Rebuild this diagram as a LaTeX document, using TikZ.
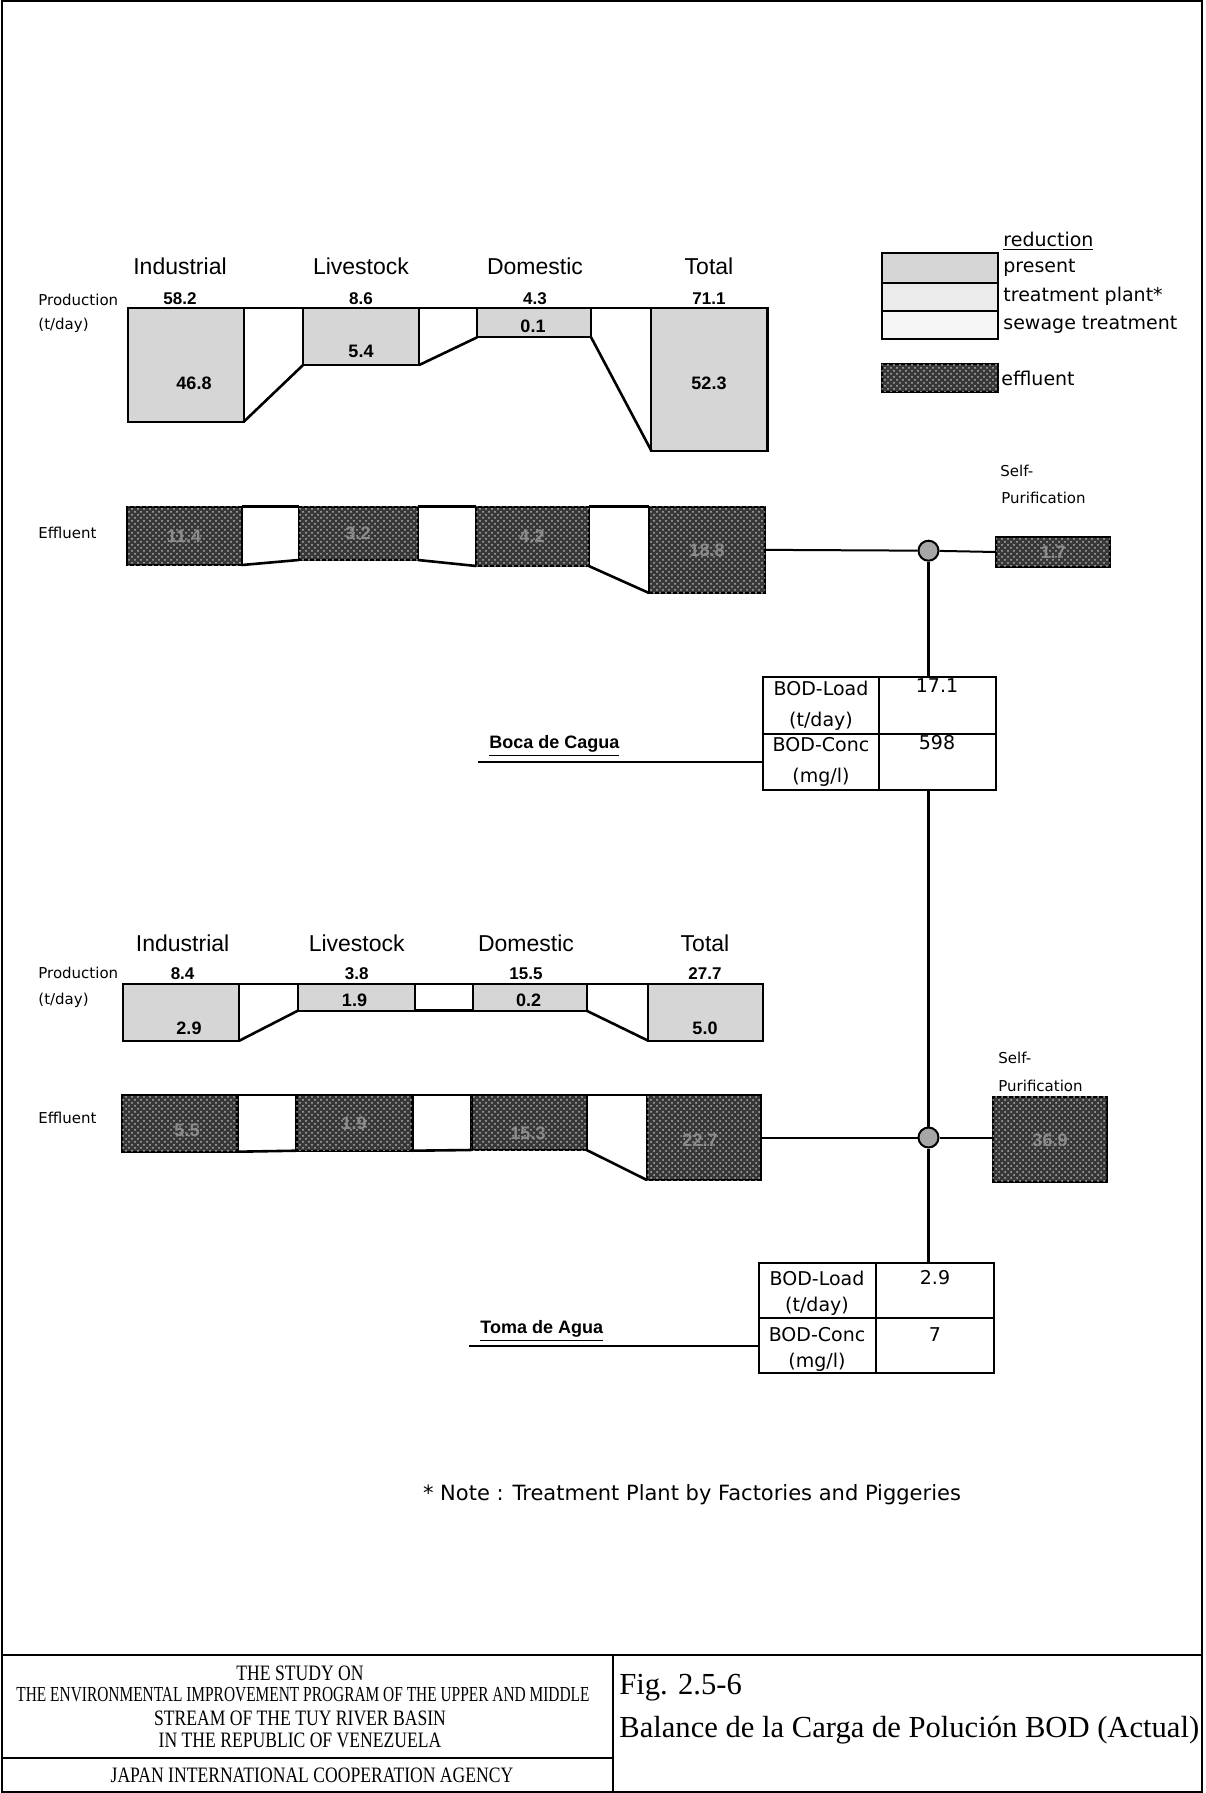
\documentclass[tikz,border=0pt]{standalone}
\usepackage{fontspec}
\usetikzlibrary{fit,patterns}
\newfontfamily\dv{DejaVu Sans}
\newfontfamily\ls{Liberation Sans}
\newfontfamily\lsr{Liberation Serif}
\newfontfamily\lsrn[FakeStretch=0.8]{Liberation Serif}
\newfontfamily\lsrm[FakeStretch=0.72]{Liberation Serif}
\begin{document}
\begin{tikzpicture}[x=0.5pt,y=-0.5pt,
 bx/.style={draw, line width=1.1pt, inner sep=0pt, outer sep=0pt},
 prod/.style={bx, fill=black!16},
 lgb/.style={bx, fill=black!8},
 lgc/.style={bx, fill=black!4},
 eff/.style={bx, fill=black!78, postaction={pattern=crosshatch dots, pattern color=white!70!black}},
 gapln/.style={line width=1.3pt},
 conn/.style={line width=1pt},
 hd/.style={font=\ls\fontsize{11.5}{13}\selectfont, inner sep=0pt},
 val/.style={font=\ls\bfseries\fontsize{8.5}{10}\selectfont, inner sep=0pt},
 inv/.style={font=\ls\bfseries\fontsize{9}{10}\selectfont, inner sep=0pt},
 einv/.style={inv, text=black!45},
 sm/.style={font=\dv\fontsize{7.5}{9}\selectfont, inner sep=0pt, anchor=west},
 tb/.style={font=\dv\fontsize{9.5}{11}\selectfont, inner sep=0pt},
 lg/.style={font=\dv\fontsize{9.5}{11}\selectfont, inner sep=0pt, anchor=west},
 place/.style={font=\ls\bfseries\fontsize{9}{11}\selectfont, inner sep=0pt, anchor=west},
 ttl/.style={font=\lsrn\fontsize{11}{12}\selectfont, inner sep=0pt},
 ttlw/.style={font=\lsrm\fontsize{10.7}{12}\selectfont, inner sep=0pt},
 figt/.style={font=\lsr\fontsize{15.3}{17}\selectfont, inner sep=0pt, anchor=west},
 frm/.style={line width=1pt},
 junc/.style={circle, draw, line width=1pt, fill=black!35, minimum size=10pt, inner sep=0pt}
]
\useasboundingbox (0,0) rectangle (1205,1793);

% ---------- frame and title block ----------
\draw[frm] (1.5,1.5) rectangle (1202,1792);
\coordinate (tl) at (1.5,1655);
\coordinate (tr) at (1202,1655);
\draw[frm] (tl) -- (tr);
\coordinate (dv1) at (612.6,1655);
\coordinate (dv2) at (612.6,1792);
\draw[frm] (dv1) -- (dv2);
\coordinate (sl) at (1.5,1758.3);
\draw[frm] (sl) -- (sl -| dv1);
\node[ttl] (t1) at (300,1673) {THE STUDY ON};
\node[ttlw] (t2) at (303,1695) {THE ENVIRONMENTAL IMPROVEMENT PROGRAM OF THE UPPER AND MIDDLE};
\node[ttl] (t3) at (300,1718) {STREAM OF THE TUY RIVER BASIN};
\node[ttl] (t4) at (300,1740) {IN THE REPUBLIC OF VENEZUELA};
\node[ttl] (t5) at (312,1775) {JAPAN INTERNATIONAL COOPERATION AGENCY};
\node[figt] (f1) at (619,1688) {Fig. 2.5-6};
\node[figt] (f2) at (619,1730) {Balance de la Carga de Polución BOD (Actual)};

% ---------- legend ----------
\node[lg] (red) at (1003,241.7) {\underline{reduction}};
\node[prod, fit={(881.7,253.3)(998.3,282.7)}] (lga) {};
\node[lgb, fit={(881.7,282.7)(998.3,310.7)}] (lgbn) {};
\node[lgc, fit={(881.7,310.7)(998.3,339.3)}] (lgcn) {};
\node[lg] (lp) at (1003,268) {present};
\node[lg] (lt) at (1003,296) {treatment plant*};
\node[lg] (ls) at (1003,325) {sewage treatment};
\node[eff, fit={(881.7,364)(998.3,391.7)}] (lge) {};
\node[lg] (le) at (1001,378) {effluent};

% ---------- upper section: production ----------
\node[hd] (h1) at (180,266.7) {Industrial};
\node[hd] (h2) at (361,266.7) {Livestock};
\node[hd] (h3) at (535,266.7) {Domestic};
\node[hd] (h4) at (709,266.7) {Total};
\node[val] (v1) at (180,299) {58.2};
\node[val] (v2) at (361,299) {8.6};
\node[val] (v3) at (535,299) {4.3};
\node[val] (v4) at (709,299) {71.1};
\node[sm] (pr1) at (38,300) {Production};
\node[sm] (td1) at (38,325) {(t/day)};

\node[prod, fit={(127.7,308)(243.8,421.7)}] (pi1) {};
\node[prod, fit={(303.1,308)(419.2,365)}] (pl1) {};
\node[prod, fit={(477.2,308)(591.1,337.3)}] (pd1) {};
\node[prod, fit={(651.3,308)(767.4,450.7)}] (pt1) {};
\draw[gapln] (pi1.north east) -- (pl1.north west);
\draw[gapln] (pi1.south east) -- (pl1.south west);
\draw[gapln] (pl1.north east) -- (pd1.north west);
\draw[gapln] (pl1.south east) -- (pd1.south west);
\draw[gapln] (pd1.north east) -- (pt1.north west);
\draw[gapln] (pd1.south east) -- (pt1.south west);
\node[inv] (n1) at (194,383) {46.8};
\node[inv] (n2) at (361,351.7) {5.4};
\node[inv] (n3) at (533,326) {0.1};
\node[inv] (n4) at (709,383) {52.3};

% ---------- upper section: effluent ----------
\node[sm] (ef1) at (38,533) {Effluent};
\node[eff, fit={(126.8,506.7)(242,565)}] (ei1) {};
\node[eff, fit={(298.7,506.7)(417.9,560)}] (el1) {};
\node[eff, fit={(476.3,506.7)(588.8,566)}] (ed1) {};
\node[eff, fit={(649,506.7)(765,593)}] (et1) {};
\draw[gapln] (ei1.north east) -- (el1.north west);
\draw[gapln] (ei1.south east) -- (el1.south west);
\draw[gapln] (el1.north east) -- (ed1.north west);
\draw[gapln] (el1.south east) -- (ed1.south west);
\draw[gapln] (ed1.north east) -- (et1.north west);
\draw[gapln] (ed1.south east) -- (et1.south west);
\node[einv] (e1) at (184,536) {11.4};
\node[einv] (e2) at (358,533) {3.2};
\node[einv] (e3) at (532,536) {4.2};
\node[einv] (e4) at (707,550) {18.8};

\node[junc] (j1) at (928.5,550.7) {};
\node[eff, fit={(996,537)(1110,567)}] (sp1) {};
\node[einv] (s1) at (1053,552) {1.7};
\node[sm] (sf1) at (1000,471) {Self-};
\node[sm] (pu1) at (1001,498) {Purification};
\draw[conn] (et1.east) -- (j1);
\draw[conn] (j1) -- (sp1.west);

% ---------- Boca de Cagua table ----------
\node[bx, fit={(763.3,676.7)(879,734)}] (c11) {};
\node[bx, fit={(879,676.7)(996,734)}] (c12) {};
\node[bx, fit={(763.3,734)(879,790)}] (c21) {};
\node[bx, fit={(879,734)(996,790)}] (c22) {};
\node[tb] (c11a) at (821,688) {BOD-Load};
\node[tb] (c11b) at (821,721) {(t/day)};
\node[tb] (c21a) at (821,745) {BOD-Conc};
\node[tb] (c21b) at (821,777) {(mg/l)};
\node[tb] (c12a) at (937,686) {17.1};
\node[tb] (c22a) at (937,743) {598};
\draw[line width=1.2pt] (j1) -- (j1 |- c12.north);
\coordinate (bc) at (478,761.7);
\draw[conn] (bc) -- (bc -| c21.west);
\node[place] (bcl) at (489,746) {\underline{Boca de Cagua}};

% ---------- lower section: production ----------
\node[hd] (h5) at (182.6,943.3) {Industrial};
\node[hd] (h6) at (356.7,943.3) {Livestock};
\node[hd] (h7) at (526,943.3) {Domestic};
\node[hd] (h8) at (705,943.3) {Total};
\node[val] (v5) at (182.6,973.3) {8.4};
\node[val] (v6) at (356.7,973.3) {3.8};
\node[val] (v7) at (526,973.3) {15.5};
\node[val] (v8) at (705,973.3) {27.7};
\node[sm] (pr2) at (38,973) {Production};
\node[sm] (td2) at (38,1000) {(t/day)};

\node[prod, fit={(123.2,984)(239.3,1040.7)}] (pi2) {};
\node[prod, fit={(297.8,984)(414.7,1010.7)}] (pl2) {};
\node[prod, fit={(472.8,984)(586.6,1010.7)}] (pd2) {};
\node[prod, fit={(648.2,984)(763,1040.7)}] (pt2) {};
\draw[gapln] (pi2.north east) -- (pl2.north west);
\draw[gapln] (pi2.south east) -- (pl2.south west);
\draw[gapln] (pl2.north east) -- (pd2.north west);
\draw[gapln] (pl2.south east) -- (pd2.south west);
\draw[gapln] (pd2.north east) -- (pt2.north west);
\draw[gapln] (pd2.south east) -- (pt2.south west);
\node[inv] (n5) at (189,1028) {2.9};
\node[inv] (n6) at (354.5,1000.7) {1.9};
\node[inv] (n7) at (528.6,1000.7) {0.2};
\node[inv] (n8) at (705,1028) {5.0};

% ---------- lower section: effluent ----------
\node[sm] (ef2) at (38,1118) {Effluent};
\node[eff, fit={(122.3,1095)(237.5,1151.7)}] (ei2) {};
\node[eff, fit={(296.4,1095)(412.5,1150.7)}] (el2) {};
\node[eff, fit={(471.4,1095)(586.6,1150)}] (ed2) {};
\node[eff, fit={(646.9,1095)(760.7,1180)}] (et2) {};
\draw[gapln] (ei2.north east) -- (el2.north west);
\draw[gapln] (ei2.south east) -- (el2.south west);
\draw[gapln] (el2.north east) -- (ed2.north west);
\draw[gapln] (el2.south east) -- (ed2.south west);
\draw[gapln] (ed2.north east) -- (et2.north west);
\draw[gapln] (ed2.south east) -- (et2.south west);
\node[einv] (e5) at (187,1130) {5.5};
\node[einv] (e6) at (354,1123) {1.9};
\node[einv] (e7) at (528,1133) {15.3};
\node[einv] (e8) at (700,1140) {22.7};

\node[junc] (j2) at (928.5,1137.5) {};
\node[eff, fit={(992.7,1096.7)(1106.7,1181.7)}] (sp2) {};
\node[einv] (s2) at (1050,1140) {36.9};
\node[sm] (sf2) at (998,1058) {Self-};
\node[sm] (pu2) at (998,1086) {Purification};
\coordinate (et2r) at (et2.east |- j2);
\draw[conn] (et2r) -- (j2);
\draw[conn] (j2) -- (j2 -| sp2.west);
\draw[line width=1.2pt] (j1 |- c22.south) -- (j2);

% ---------- Toma de Agua table ----------
\node[bx, fit={(759.3,1262.7)(875.7,1318.3)}] (d11) {};
\node[bx, fit={(875.7,1262.7)(994,1318.3)}] (d12) {};
\node[bx, fit={(759.3,1318.3)(875.7,1373.3)}] (d21) {};
\node[bx, fit={(875.7,1318.3)(994,1373.3)}] (d22) {};
\node[tb] (d11a) at (817,1278) {BOD-Load};
\node[tb] (d11b) at (817,1306) {(t/day)};
\node[tb] (d21a) at (817,1335) {BOD-Conc};
\node[tb] (d21b) at (817,1362) {(mg/l)};
\node[tb] (d12a) at (935,1278) {2.9};
\node[tb] (d22a) at (935,1335) {7};
\draw[line width=1.2pt] (j2) -- (j2 |- d12.north);
\coordinate (ta) at (469,1346);
\draw[conn] (ta) -- (ta -| d21.west);
\node[place] (tal) at (480,1331) {\underline{Toma de Agua}};

% ---------- note ----------
\node[font=\dv\fontsize{10.5}{12}\selectfont, inner sep=0pt] (note) at (692,1495) {* Note : Treatment Plant by Factories and Piggeries};
\end{tikzpicture}
\end{document}
